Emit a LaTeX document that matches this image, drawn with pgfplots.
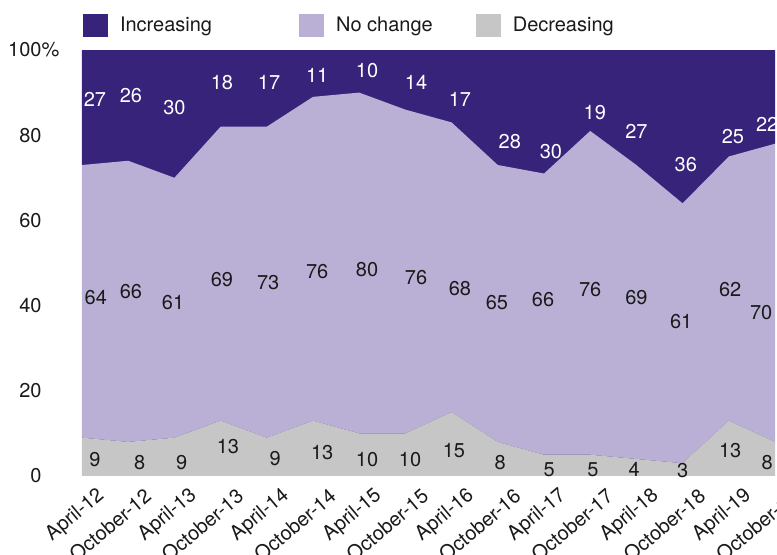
\documentclass[border=0pt]{standalone}
\usepackage{pgfplots}
\pgfplotsset{compat=1.18}
\usepackage{pgfplotstable}
\usepackage{fontspec}
\setmainfont{TeX Gyre Heros}

\definecolor{incr}{HTML}{37237A}
\definecolor{nochg}{HTML}{BAB0D5}
\definecolor{decr}{HTML}{C6C6C6}
\definecolor{ink}{HTML}{1A1A1A}

% Share of respondents (%) per survey wave
\pgfplotstableread{
x dec nochg inc
0  9  64 27
1  8  66 26
2  9  61 30
3  13 69 18
4  9  73 17
5  13 76 11
6  10 80 10
7  10 76 14
8  15 68 17
9  8  65 28
10 5  66 30
11 5  76 19
12 4  69 27
13 3  61 36
14 13 62 25
15 8  70 22
}\shares

% Label positions inside each band
\pgfplotstableread{
x y lab
0.28  88.5 27
1.06  89.2 26
2.00  86.6 30
3.03  92.3 18
4.05  92.3 17
5.09  94.1 11
6.17  95.1 10
7.23  92.5 14
8.18  88.5 17
9.26  78.6 28
10.15 76.1 30
11.10 85.4 19
12.00 80.8 27
13.07 73.2 36
14.09 79.6 25
14.83 82.6 22
}\inclabels

\pgfplotstableread{
x y lab
0.30  42.0 64
1.06  43.2 66
1.97  40.8 61
3.03  46.0 69
4.03  45.5 73
5.09  47.9 76
6.17  48.4 80
7.23  46.5 76
8.18  44.1 68
8.98  40.8 65
9.98  41.3 66
11.00 43.7 76
12.00 41.8 69
12.97 36.2 61
14.03 43.7 62
14.70 38.3 70
}\nochglabels

\pgfplotstableread{
x y lab
0.28  3.8 9
1.25  3.1 8
2.16  3.1 9
3.16  7.0 13
4.18  4.2 9
5.20  5.4 13
6.17  3.8 10
7.10  3.8 10
8.05  5.9 15
9.05  3.1 8
10.11 1.4 5
11.06 1.4 5
11.95 1.6 4
13.00 1.2 3
14.03 5.9 13
14.83 3.1 8
}\declabels

\begin{document}
\begin{tikzpicture}
\begin{axis}[
  name=ax,
  scale only axis,
  width=346.5pt, height=213pt,
  xmin=0, xmax=15, ymin=0, ymax=100,
  font=\fontsize{10}{12}\selectfont,
  axis line style={draw=none},
  major tick length=0pt,
  axis background/.style={fill=incr},
  stack plots=y,
  ytick={0,20,40,60,80,100},
  yticklabels={0,20,40,60,80,100\rlap{\%}},
  yticklabel style={anchor=east, inner sep=0pt, xshift=-20pt, text=ink},
  xtick={0,...,15},
  xticklabels={April-12,October-12,April-13,October-13,April-14,October-14,
    April-15,October-15,April-16,October-16,April-17,October-17,
    April-18,October-18,April-19,October-19},
  xticklabel style={xshift=10pt, yshift=-8.5pt, rotate=40, anchor=east,
    inner sep=0pt, text=ink},
  /pgf/number format/assume math mode=true,
  legend columns=3,
  legend image code/.code={\fill[#1] (0pt,-5.75pt) rectangle (12.5pt,5.75pt);},
  legend style={at={(0.0015,1.0845)}, anchor=north west, draw=none, fill=none,
    inner sep=0pt, outer sep=0pt, font=\fontsize{10}{12}\selectfont,
    nodes={inner sep=0pt, text=ink},
    /tikz/every odd column/.append style={column sep=6pt},
    /tikz/every even column/.append style={column sep=21.5pt}},
]
\addlegendimage{fill=incr, draw=none}
\addlegendentry{Increasing\rule{22pt}{0pt}}
\addlegendimage{fill=nochg, draw=none}
\addlegendentry{No change}
\addlegendimage{fill=decr, draw=none}
\addlegendentry{Decreasing}

\addplot[fill=decr, draw=none] table[x=x, y=dec] {\shares} \closedcycle;
\addplot[fill=nochg, draw=none] table[x=x, y=nochg] {\shares} \closedcycle;
\addplot[fill=incr, draw=none] table[x=x, y=inc] {\shares} \closedcycle;

\addplot[stack plots=false, draw=none, mark=none, nodes near coords,
  point meta=explicit symbolic,
  every node near coord/.style={anchor=center, inner sep=0pt, text=white}]
  table[x=x, y=y, meta=lab] {\inclabels};
\addplot[stack plots=false, draw=none, mark=none, nodes near coords,
  point meta=explicit symbolic,
  every node near coord/.style={anchor=center, inner sep=0pt, text=ink}]
  table[x=x, y=y, meta=lab] {\nochglabels};
\addplot[stack plots=false, draw=none, mark=none, nodes near coords,
  point meta=explicit symbolic,
  every node near coord/.style={anchor=center, inner sep=0pt, text=ink}]
  table[x=x, y=y, meta=lab] {\declabels};
\end{axis}
% keep the strip just above the plot area clean
\fill[white] (ax.north west) rectangle ([yshift=5pt]ax.north east);
\pgfresetboundingbox
\path[use as bounding box] ([xshift=-41pt,yshift=-39.5pt]ax.south west)
  rectangle ([xshift=1pt,yshift=25pt]ax.north east);
\end{tikzpicture}
\end{document}
